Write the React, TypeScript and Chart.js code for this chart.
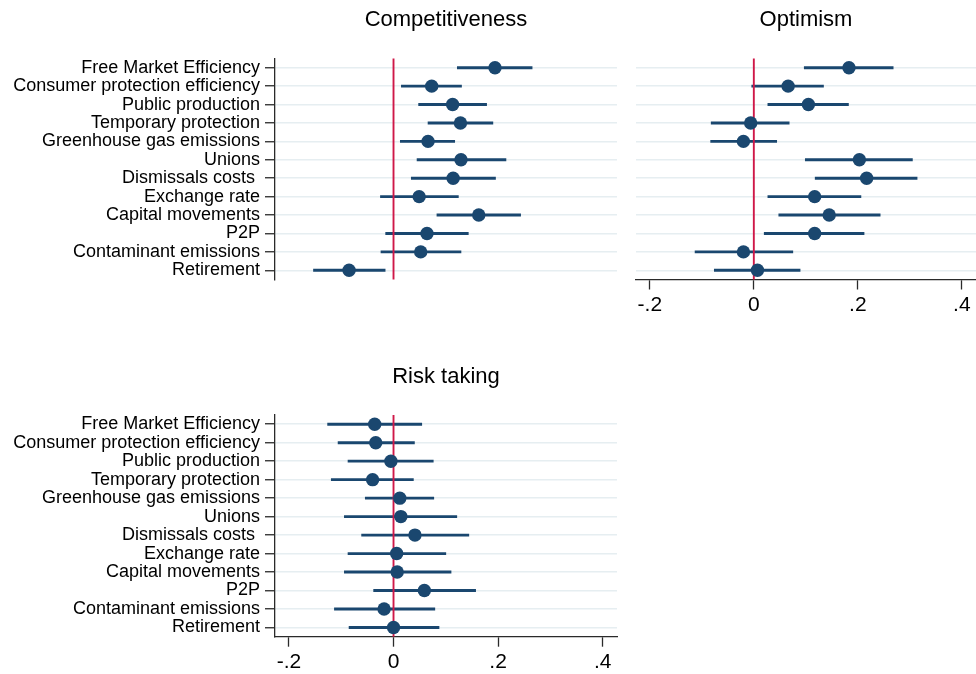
import React, { useEffect, useRef } from "react";
import { Chart, registerables } from "chart.js";

Chart.register(...registerables);

const categories = [
  "Free Market Efficiency",
  "Consumer protection efficiency",
  "Public production",
  "Temporary protection",
  "Greenhouse gas emissions",
  "Unions",
  "Dismissals costs ",
  "Exchange rate",
  "Capital movements",
  "P2P",
  "Contaminant emissions",
  "Retirement",
];

const compEst = [0.194, 0.073, 0.113, 0.128, 0.066, 0.129, 0.114, 0.049, 0.163, 0.064, 0.052, -0.085];
const compLo = [0.122, 0.015, 0.048, 0.066, 0.013, 0.045, 0.034, -0.025, 0.083, -0.015, -0.024, -0.153];
const compHi = [0.265, 0.13, 0.178, 0.19, 0.117, 0.215, 0.195, 0.124, 0.243, 0.143, 0.129, -0.016];

const optEst = [0.183, 0.066, 0.105, -0.006, -0.02, 0.203, 0.217, 0.117, 0.145, 0.117, -0.02, 0.007];
const optLo = [0.097, -0.004, 0.027, -0.082, -0.083, 0.099, 0.118, 0.027, 0.048, 0.02, -0.113, -0.076];
const optHi = [0.268, 0.134, 0.182, 0.068, 0.044, 0.305, 0.314, 0.206, 0.243, 0.212, 0.075, 0.089];

const riskEst = [-0.036, -0.034, -0.005, -0.04, 0.012, 0.014, 0.041, 0.006, 0.007, 0.059, -0.018, 0.0];
const riskLo = [-0.126, -0.106, -0.087, -0.119, -0.054, -0.094, -0.061, -0.087, -0.094, -0.038, -0.113, -0.085];
const riskHi = [0.054, 0.04, 0.076, 0.038, 0.077, 0.121, 0.144, 0.1, 0.11, 0.157, 0.079, 0.087];

const xTickValues = [-0.2, 0, 0.2, 0.4];
const xTickLabels = ["-.2", "0", ".2", ".4"];
const xMin = -0.2266;
const xMax = 0.4273;
const refValue = 0;

const W = 976;
const H = 674;
const FONT = "'Liberation Sans', Arial, Helvetica, sans-serif";
const NAVY = "#1a476f";
const RED = "#cf1848";
const GRID = "#e6eef1";
const AXIS = "#2a2a2a";

const refLine = {
  id: "refLine",
  beforeDatasetDraw(chart: any, args: any) {
    if (args.index !== 1) return;
    const { ctx, chartArea, scales } = chart;
    const x = scales.x.getPixelForValue(refValue);
    ctx.save();
    ctx.strokeStyle = RED;
    ctx.lineWidth = 1.9;
    ctx.beginPath();
    ctx.moveTo(x, chartArea.top);
    ctx.lineTo(x, chartArea.bottom);
    ctx.stroke();
    ctx.restore();
  },
};

type Box = { left: number; top: number; right: number; bottom: number };

function Panel(props: {
  est: number[];
  lo: number[];
  hi: number[];
  box: Box;
  showY: boolean;
  showX: boolean;
}) {
  const ref = useRef<HTMLCanvasElement>(null);
  useEffect(() => {
    const { est, lo, hi, box, showY, showX } = props;
    const yWidth = showY ? box.left : 0;
    const xHeight = showX ? 37 : 0;
    const chart = new Chart(ref.current as HTMLCanvasElement, {
      type: "bar",
      data: {
        labels: categories,
        datasets: [
          {
            type: "bar",
            indexAxis: "y",
            data: lo.map((l, i) => [l, hi[i]]),
            backgroundColor: NAVY,
            borderWidth: 0,
            barThickness: 2.2,
            order: 1,
          } as any,
          {
            type: "scatter",
            indexAxis: "y",
            data: est.map((v, i) => ({ x: v, y: categories[i] })),
            backgroundColor: NAVY,
            borderColor: NAVY,
            borderWidth: 0,
            pointRadius: 6.7,
            order: 0,
          } as any,
        ],
      },
      options: {
        indexAxis: "y",
        animation: false,
        responsive: false,
        maintainAspectRatio: false,
        events: [],
        layout: {
          autoPadding: false,
          padding: {
            left: box.left - yWidth,
            right: W - box.right,
            top: box.top,
            bottom: H - box.bottom - xHeight,
          },
        },
        plugins: {
          legend: { display: false },
          tooltip: { enabled: false },
          title: { display: false },
        },
        scales: {
          x: {
            type: "linear",
            display: showX,
            position: "bottom",
            min: xMin,
            max: xMax,
            afterBuildTicks: (s: any) => {
              s.ticks = xTickValues.map((v) => ({ value: v }));
            },
            afterFit: (s: any) => {
              s.height = xHeight;
              s.paddingLeft = 0;
              s.paddingRight = 0;
            },
            ticks: {
              callback: (_v: any, i: number) => xTickLabels[i],
              font: { family: FONT, size: 21 },
              color: "#000",
              padding: 3,
              maxRotation: 0,
              autoSkip: false,
            },
            grid: {
              color: "rgba(0,0,0,0)",
              drawTicks: true,
              tickLength: 10,
              tickColor: AXIS,
              tickWidth: 1.3,
            },
            border: { display: true, color: AXIS, width: 1.3 },
          },
          y: {
            type: "category",
            offset: true,
            afterFit: (s: any) => {
              s.width = yWidth;
              s.paddingTop = 0;
              s.paddingBottom = 0;
            },
            ticks: {
              display: showY,
              font: { family: FONT, size: 18 },
              color: "#000",
              padding: 5,
              autoSkip: false,
            },
            grid: {
              offset: false,
              color: GRID,
              lineWidth: 1.5,
              drawTicks: showY,
              tickLength: 10,
              tickColor: AXIS,
              tickWidth: 1.3,
            },
            border: { display: showY, color: AXIS, width: 1.3 },
          },
        },
      } as any,
      plugins: [refLine],
    });
    return () => chart.destroy();
  }, []);
  return (
    <canvas
      ref={ref}
      width={W}
      height={H}
      style={{ position: "absolute", left: 0, top: 0, width: W, height: H }}
    />
  );
}

function Title(props: { text: string; center: number; top: number }) {
  return (
    <div
      style={{
        position: "absolute",
        left: props.center - 150,
        width: 300,
        top: props.top,
        textAlign: "center",
        fontFamily: FONT,
        fontSize: 22,
        lineHeight: "22px",
        color: "#000",
        whiteSpace: "pre",
      }}
    >
      {props.text}
    </div>
  );
}

export default function App() {
  const tl: Box = { left: 275, top: 58.5, right: 617, bottom: 279.5 };
  const tr: Box = { left: 636, top: 58.5, right: 976, bottom: 279.5 };
  const bl: Box = { left: 275, top: 415, right: 617, bottom: 636.7 };
  return (
    <div
      style={{
        position: "absolute",
        left: 0,
        top: 0,
        width: W,
        height: H,
        background: "#fff",
        overflow: "hidden",
      }}
    >
      <Panel est={compEst} lo={compLo} hi={compHi} box={tl} showY={true} showX={false} />
      <Panel est={optEst} lo={optLo} hi={optHi} box={tr} showY={false} showX={true} />
      <Panel est={riskEst} lo={riskLo} hi={riskHi} box={bl} showY={true} showX={true} />
      <Title text="Competitiveness" center={(tl.left + tl.right) / 2} top={8.4} />
      <Title text="Optimism" center={(tr.left + tr.right) / 2} top={8.4} />
      <Title text="Risk taking" center={(bl.left + bl.right) / 2} top={364.5} />
    </div>
  );
}
